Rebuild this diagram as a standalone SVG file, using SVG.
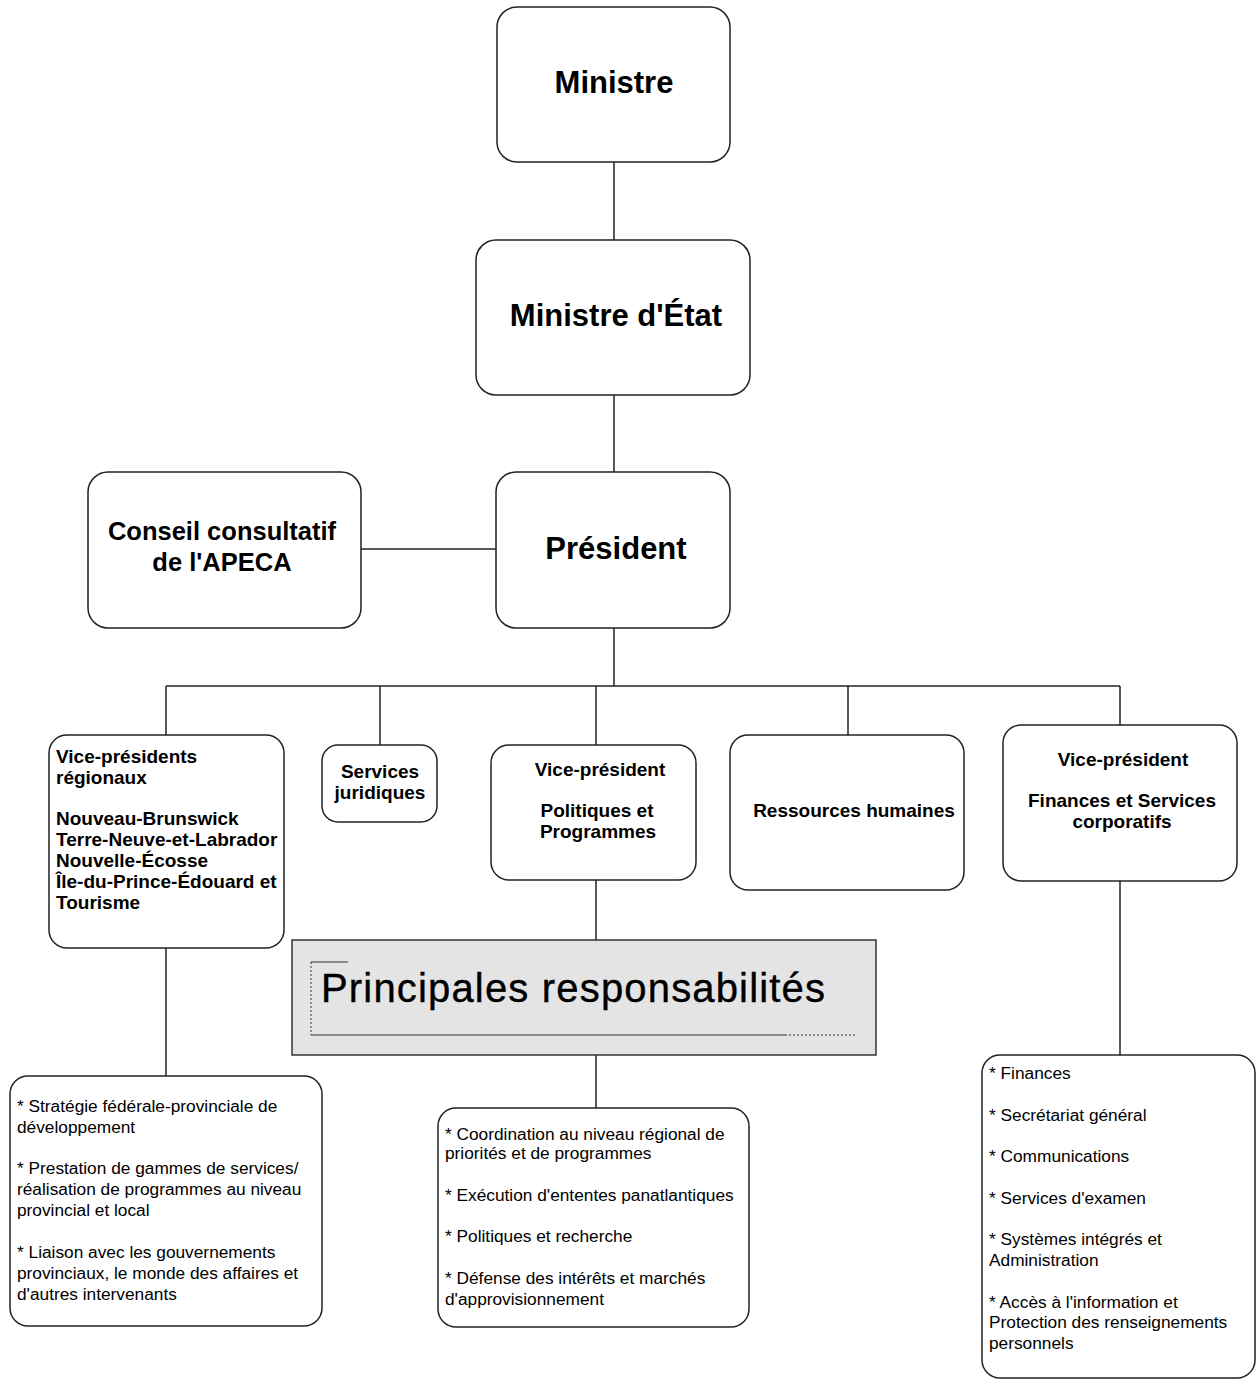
<svg xmlns="http://www.w3.org/2000/svg" width="1257" height="1382" viewBox="0 0 1257 1382">
<style>
.box{fill:#fff;stroke:#222;stroke-width:1.5}
.conn{stroke:#222;stroke-width:1.5;fill:none}
.t1{font-family:"Liberation Sans",Arial,sans-serif;font-weight:bold;font-size:31px;fill:#000}
.t2{font-family:"Liberation Sans",Arial,sans-serif;font-weight:bold;font-size:25.5px;fill:#000}
.b{font-family:"Liberation Sans",Arial,sans-serif;font-weight:bold;font-size:19px;fill:#000}
.r{font-family:"Liberation Sans",Arial,sans-serif;font-size:17.3px;fill:#000}
.c{text-anchor:middle}
</style>
<rect width="1257" height="1382" fill="#fff"/>
<g id="connectors">
<line class="conn" x1="614" y1="162" x2="614" y2="240"/>
<line class="conn" x1="614" y1="395" x2="614" y2="472"/>
<line class="conn" x1="361" y1="549" x2="496" y2="549"/>
<line class="conn" x1="614" y1="628" x2="614" y2="686"/>
<line class="conn" x1="166" y1="686" x2="1120" y2="686"/>
<line class="conn" x1="166" y1="686" x2="166" y2="735"/>
<line class="conn" x1="380" y1="686" x2="380" y2="745"/>
<line class="conn" x1="596" y1="686" x2="596" y2="745"/>
<line class="conn" x1="848" y1="686" x2="848" y2="735"/>
<line class="conn" x1="1120" y1="686" x2="1120" y2="725"/>
<line class="conn" x1="596" y1="880" x2="596" y2="940"/>
<line class="conn" x1="596" y1="1055" x2="596" y2="1108"/>
<line class="conn" x1="166" y1="948" x2="166" y2="1076"/>
<line class="conn" x1="1120" y1="881" x2="1120" y2="1055"/>
</g>
<g id="ministre">
<rect class="box" x="497" y="7" width="233" height="155" rx="20"/>
<text class="t1 c" x="614" y="93">Ministre</text>
</g>
<g id="ministre-etat">
<rect class="box" x="476" y="240" width="274" height="155" rx="20"/>
<text class="t1 c" x="616" y="326">Ministre d'État</text>
</g>
<g id="president">
<rect class="box" x="496" y="472" width="234" height="156" rx="20"/>
<text class="t1 c" x="616" y="559">Président</text>
</g>
<g id="conseil">
<rect class="box" x="88" y="472" width="273" height="156" rx="20"/>
<text class="t2 c" x="222" y="540">Conseil consultatif</text>
<text class="t2 c" x="222" y="571">de l'APECA</text>
</g>
<g id="vp-regionaux">
<rect class="box" x="49" y="735" width="235" height="213" rx="18"/>
<text class="b" x="56" y="763">Vice-présidents</text>
<text class="b" x="56" y="784">régionaux</text>
<text class="b" x="56" y="825">Nouveau-Brunswick</text>
<text class="b" x="56" y="846">Terre-Neuve-et-Labrador</text>
<text class="b" x="56" y="867">Nouvelle-Écosse</text>
<text class="b" x="56" y="888">Île-du-Prince-Édouard et</text>
<text class="b" x="56" y="909">Tourisme</text>
</g>
<g id="services-juridiques">
<rect class="box" x="322" y="745" width="115" height="77" rx="16"/>
<text class="b c" x="380" y="778">Services</text>
<text class="b c" x="380" y="799">juridiques</text>
</g>
<g id="vp-politiques">
<rect class="box" x="491" y="745" width="205" height="135" rx="18"/>
<text class="b c" x="600" y="776">Vice-président</text>
<text class="b c" x="597" y="817">Politiques et</text>
<text class="b c" x="598" y="838">Programmes</text>
</g>
<g id="ressources-humaines">
<rect class="box" x="730" y="735" width="234" height="155" rx="18"/>
<text class="b c" x="854" y="817">Ressources humaines</text>
</g>
<g id="vp-finances">
<rect class="box" x="1003" y="725" width="234" height="156" rx="18"/>
<text class="b c" x="1123" y="766">Vice-président</text>
<text class="b c" x="1122" y="807">Finances et Services</text>
<text class="b c" x="1122" y="828">corporatifs</text>
</g>
<g id="principales">
<rect x="292" y="940" width="584" height="115" fill="#e4e4e4" stroke="#333" stroke-width="1.5"/>
<line x1="311" y1="962" x2="348" y2="962" stroke="#333" stroke-width="1.2"/>
<line x1="311" y1="962" x2="311" y2="1035" stroke="#333" stroke-width="1" stroke-dasharray="2,2"/>
<line x1="311" y1="1035" x2="785" y2="1035" stroke="#333" stroke-width="1.2"/>
<line x1="785" y1="1035" x2="856" y2="1035" stroke="#333" stroke-width="1" stroke-dasharray="2,2"/>
<text x="321" y="1002" font-family="Liberation Sans, Arial, sans-serif" font-size="40" textLength="504" lengthAdjust="spacing" fill="#000" stroke="#000" stroke-width="0.4">Principales responsabilités</text>
</g>
<g id="resp-regionaux">
<rect class="box" x="10" y="1076" width="312" height="250" rx="18"/>
<text class="r" x="17" y="1112">* Stratégie fédérale-provinciale de</text>
<text class="r" x="17" y="1133">développement</text>
<text class="r" x="17" y="1174">* Prestation de gammes de services/</text>
<text class="r" x="17" y="1195">réalisation de programmes au niveau</text>
<text class="r" x="17" y="1216">provincial et local</text>
<text class="r" x="17" y="1258">* Liaison avec les gouvernements</text>
<text class="r" x="17" y="1279">provinciaux, le monde des affaires et</text>
<text class="r" x="17" y="1300">d'autres intervenants</text>
</g>
<g id="resp-politiques">
<rect class="box" x="438" y="1108" width="311" height="219" rx="18"/>
<text class="r" x="445" y="1140">* Coordination au niveau régional de</text>
<text class="r" x="445" y="1159">priorités et de programmes</text>
<text class="r" x="445" y="1201">* Exécution d'ententes panatlantiques</text>
<text class="r" x="445" y="1242">* Politiques et recherche</text>
<text class="r" x="445" y="1284">* Défense des intérêts et marchés</text>
<text class="r" x="445" y="1305">d'approvisionnement</text>
</g>
<g id="resp-finances">
<rect class="box" x="982" y="1055" width="273" height="323" rx="18"/>
<text class="r" x="989" y="1079">* Finances</text>
<text class="r" x="989" y="1121">* Secrétariat général</text>
<text class="r" x="989" y="1162">* Communications</text>
<text class="r" x="989" y="1204">* Services d'examen</text>
<text class="r" x="989" y="1245">* Systèmes intégrés et</text>
<text class="r" x="989" y="1266">Administration</text>
<text class="r" x="989" y="1308">* Accès à l'information et</text>
<text class="r" x="989" y="1328">Protection des renseignements</text>
<text class="r" x="989" y="1349">personnels</text>
</g>
</svg>
